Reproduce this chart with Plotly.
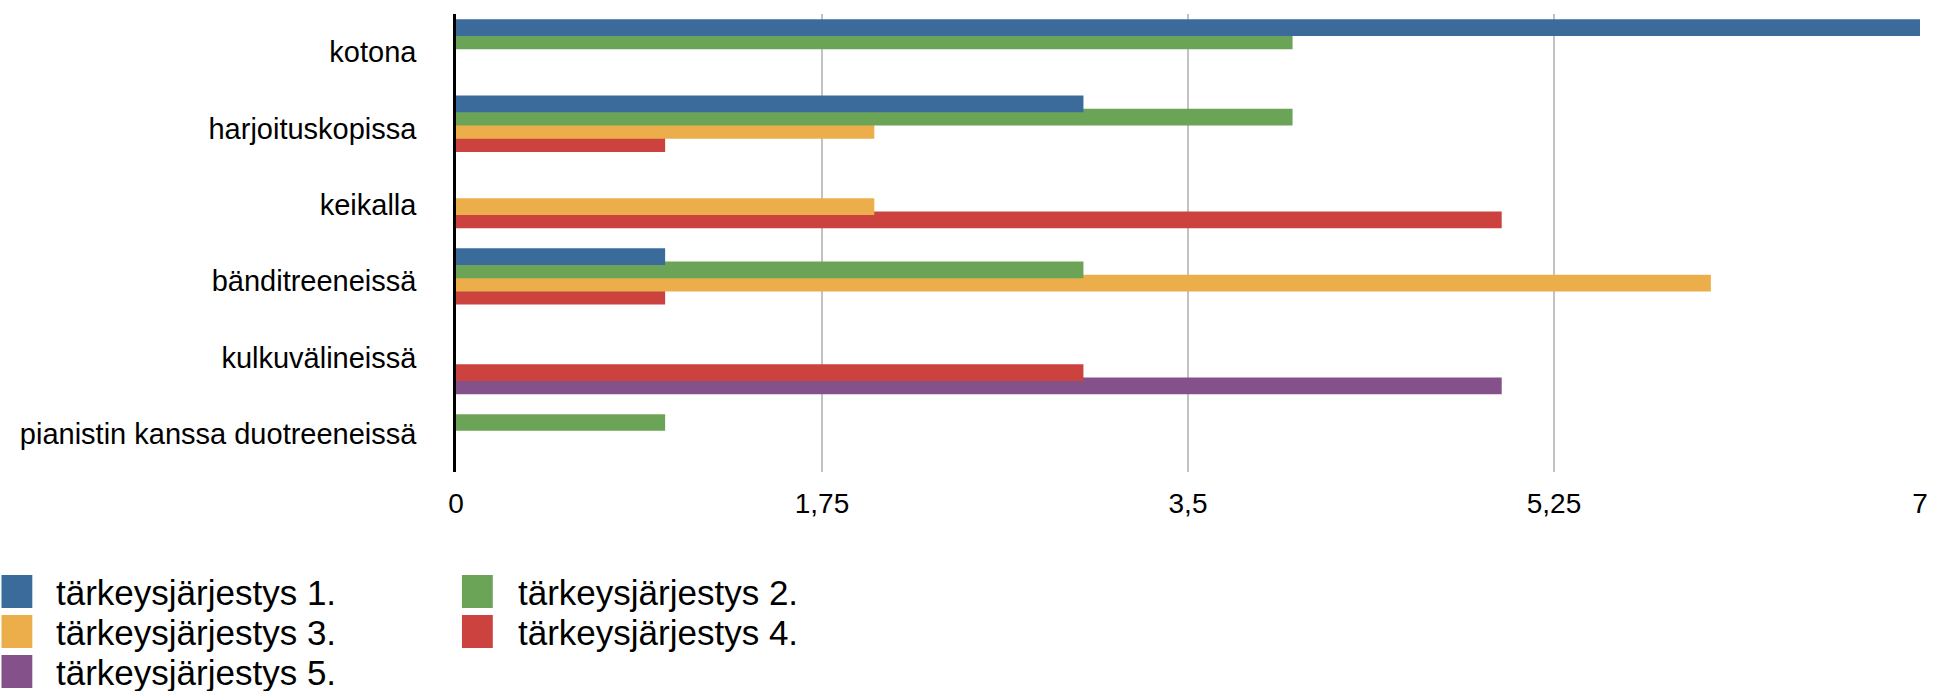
import plotly.graph_objects as go

# Places where practising happens, top to bottom
categories = [
    "kotona",
    "harjoituskopissa",
    "keikalla",
    "bänditreeneissä",
    "kulkuvälineissä",
    "pianistin kanssa duotreeneissä",
]

# Number of answers per priority rank (None = no answers)
series_names = [
    "tärkeysjärjestys 1.",
    "tärkeysjärjestys 2.",
    "tärkeysjärjestys 3.",
    "tärkeysjärjestys 4.",
    "tärkeysjärjestys 5.",
]
rank1 = [7, 3, None, 1, None, None]
rank2 = [4, 4, None, 3, None, 1]
rank3 = [None, 2, 2, 6, None, None]
rank4 = [None, 1, 5, 1, 3, None]
rank5 = [None, None, None, None, 5, None]

x_tickvals = [0, 1.75, 3.5, 5.25, 7]
x_ticktext = ["0", "1,75", "3,5", "5,25", "7"]

colors = ["#3B6B9B", "#6CA457", "#ECAE4B", "#CB423F", "#84518A"]
series_values = [rank1, rank2, rank3, rank4, rank5]

# Page geometry (pixels)
W, H = 1937, 691
M_L, M_R, M_T, M_B = 456, 9, 14, 219
PLOT_W = W - M_L - M_R
PLOT_H = H - M_T - M_B


def px_x(px):
    return (px - M_L) / PLOT_W


def px_y(py):
    return 1 - (py - M_T) / PLOT_H


FONT = "Liberation Sans, Arial, Helvetica, sans-serif"

# Bar slot geometry inside each category band (category units)
BAR_W = 0.219
SLOT = 0.173
FIRST = -0.431

fig = go.Figure()
# Later ranks go underneath, so add them first
for k in reversed(range(len(series_names))):
    fig.add_trace(
        go.Bar(
            x=series_values[k],
            y=categories,
            orientation="h",
            name=series_names[k],
            marker=dict(color=colors[k], line=dict(width=0)),
            width=BAR_W,
            offset=FIRST + k * SLOT,
            showlegend=False,
            hoverinfo="x+y+name",
        )
    )

# Two-column legend: swatches and labels
shapes = []
annotations = []
legend_cols = [(-1, 52), (462, 516)]
row_tops = [575, 615, 655]
for k, name in enumerate(series_names):
    col = k % 2
    row = k // 2
    sx, tx = legend_cols[col]
    top = row_tops[row]
    shapes.append(
        dict(
            type="rect",
            xref="paper",
            yref="paper",
            x0=px_x(sx),
            x1=px_x(sx + 31),
            y0=px_y(top),
            y1=px_y(top + 33),
            fillcolor=colors[k],
            line=dict(width=0),
            layer="above",
        )
    )
    annotations.append(
        dict(
            xref="paper",
            yref="paper",
            x=px_x(tx),
            y=px_y(top + 17),
            xanchor="left",
            yanchor="middle",
            text=name,
            showarrow=False,
            font=dict(family=FONT, size=35, color="#000000"),
        )
    )

fig.update_layout(
    width=W,
    height=H,
    margin=dict(l=M_L, r=M_R, t=M_T, b=M_B, pad=0),
    barmode="overlay",
    paper_bgcolor="white",
    plot_bgcolor="white",
    showlegend=False,
    shapes=shapes,
    annotations=annotations,
    font=dict(family=FONT, color="#000000"),
    xaxis=dict(
        range=[0, 7],
        tickmode="array",
        tickvals=x_tickvals,
        ticktext=x_ticktext,
        showgrid=True,
        gridcolor="#C2C2C2",
        gridwidth=2,
        zeroline=False,
        showline=False,
        ticks="",
        ticklabelstandoff=12,
        tickfont=dict(family=FONT, size=28, color="#000000"),
        fixedrange=True,
    ),
    yaxis=dict(
        type="category",
        categoryorder="array",
        categoryarray=categories,
        range=[len(categories) - 0.5, -0.5],
        showgrid=False,
        zeroline=False,
        showline=True,
        linecolor="#000000",
        linewidth=2.5,
        ticks="",
        ticklabelstandoff=31,
        tickfont=dict(family=FONT, size=29, color="#000000"),
        fixedrange=True,
    ),
)

fig.write_html("out.html")
